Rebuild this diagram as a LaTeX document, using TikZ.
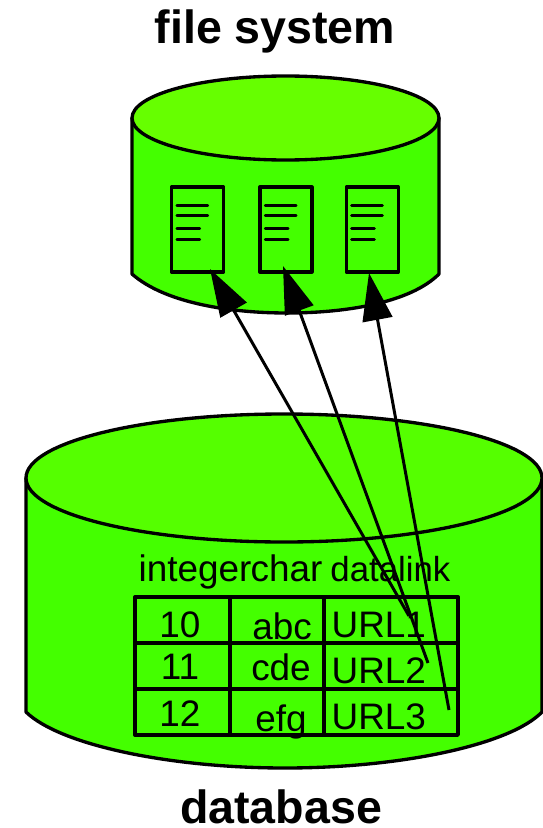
\documentclass[tikz,border=0pt]{standalone}
\usepackage{fontspec}
\setmainfont{Liberation Sans}
\definecolor{bodygreen}{HTML}{44FF00}
\definecolor{topgreen}{HTML}{66FF00}
\usetikzlibrary{arrows.meta,positioning}

\begin{document}
\begin{tikzpicture}[
  x=0.02cm, y=-0.02cm,
  every path/.style={line width=1.9pt, line join=round},
  title/.style={font=\fontsize{26.5}{27}\selectfont\bfseries, inner sep=0pt},
  cell/.style={font=\fontsize{21}{22}\selectfont, inner sep=0pt},
  docbox/.style={draw, minimum width=52*0.02cm, minimum height=85*0.02cm, inner sep=0pt},
  arr/.style={-{Triangle[length=27pt, width=17pt]}, line width=1.7pt}
]
  \useasboundingbox (0,0) rectangle (543,828);

  % file system
  \node[title, anchor=base] (fstitle) at (275,44) {file system};
  \draw[fill=bodygreen] (132,118) -- (132,274) .. controls (165,303) and (230,313) .. (287,313)
    .. controls (345,313) and (410,303) .. (439,274) -- (439,118) -- cycle;
  \draw[fill=topgreen] (285.5,118) ellipse (153.5 and 42);
  \node[docbox] (doca) at (197.5,229.5) {};
  \node[docbox, right=33*0.02cm of doca] (docb) {};
  \node[docbox, right=31*0.02cm of docb] (docc) {};
  \foreach \d in {doca,docb,docc} {
    \foreach \y/\w in {20/31,30/31,43/23,54/23}
      \draw[line width=1.5pt, line cap=round] ([xshift=7*0.02cm, yshift=-\y*0.02cm]\d.north west)
        -- ++(\w,0);
  }

  % database
  \draw[fill=bodygreen] (26,478) -- (26,712) .. controls (60,745) and (170,768) .. (285,768)
    .. controls (400,768) and (510,745) .. (542,712) -- (542,478) -- cycle;
  \draw[fill=topgreen!50!bodygreen] (284,478) ellipse (258 and 64);
  \node[title, anchor=base] (dbtitle) at (281,823) {database};

  % table
  \node[cell, anchor=base west] (hint) at (137,581) {integer};
  \node[cell, anchor=base west] (hchar) at (249,581) {char};
  \node[cell, anchor=base east, font=\fontsize{19.8}{20}\selectfont] (hlink) at (452,581) {datalink};
  \draw (135,597) rectangle (458,735);
  \draw (135,643) -- (458,643);
  \draw (135,689) -- (458,689);
  \draw (230,597) -- (230,735);
  \draw (324,597) -- (324,735);
  \node[cell] (ia) at (180,625) {10};
  \node[cell] (ib) at (180,667) {11};
  \node[cell] (ic) at (180,714) {12};
  \node[cell] (ca) at (282,626) {abc};
  \node[cell] (cb) at (281,667) {cde};
  \node[cell, anchor=base] (cc) at (281,731) {efg};
  \node[cell, anchor=base west] (ua) at (330,637) {URL1};
  \node[cell, anchor=base west] (ub) at (330,683) {URL2};
  \node[cell, anchor=base west] (uc) at (330,729) {URL3};

  \coordinate (starta) at (409,616);
  \coordinate (startb) at (428,663);
  \coordinate (startc) at (449,710);
  \coordinate (enda) at (210,269);
  \coordinate (endb) at (283,266);
  \coordinate (endc) at (369,273);
  \draw[arr] (starta) -- (enda);
  \draw[arr] (startb) -- (endb);
  \draw[arr] (startc) -- (endc);
\end{tikzpicture}
\end{document}
